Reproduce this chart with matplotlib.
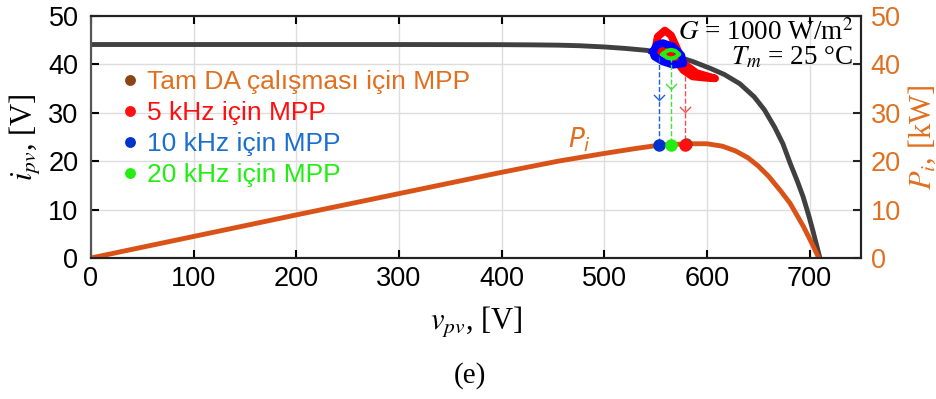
import numpy as np
import matplotlib.pyplot as plt

plt.rcParams['font.family'] = ['Liberation Sans', 'DejaVu Sans']
plt.rcParams['mathtext.fontset'] = 'stix'

# I-V curve (left axis)
v_iv = [0, 100, 200, 300, 400, 430, 455, 476, 500, 520, 541, 565, 586, 603, 617, 632, 646, 656,
        666, 674, 681, 688, 693.6, 699, 703, 707, 710]
i_iv = [44.1, 44.1, 44.1, 44.1, 44.07, 44.03, 43.97, 43.85, 43.6, 43.3, 42.9, 42.0, 40.6, 39.2,
        37.9, 36.0, 33.3, 30.6, 27.0, 23.6, 19.6, 15.9, 12.7, 8.9, 5.8, 2.5, 0]

# P-V curve (right axis, kW)
v_p = [0, 100, 200, 300, 400, 455, 500, 530, 553, 580, 600, 615, 628, 640, 650, 660, 672, 681,
       694, 703, 709]
p_kw = [0, 4.45, 8.9, 13.3, 17.7, 20.0, 21.6, 22.6, 23.3, 23.6, 23.6, 23.1, 22.1, 20.7, 19.0,
        16.9, 13.8, 11.3, 6.5, 2.7, 0]

# operating-point loops around the MPP (v, i)
red_v = [549, 552, 559, 565, 570, 577, 590, 608, 600, 586, 577, 567, 557, 549]
red_i = [42.3, 45.7, 47.0, 46.0, 43.7, 40.2, 38.2, 37.1, 37.2, 37.5, 38.8, 41.6, 43.7, 42.3]
blue_v = [547.5, 551, 557, 567, 575, 577, 567, 557, 549, 547.5]
blue_i = [42.6, 44.0, 44.4, 43.7, 41.9, 40.2, 39.9, 40.6, 41.6, 42.6]
green_v = [557, 561, 565, 569, 573, 569, 565, 561, 557]
green_i = [42.1, 42.8, 43.0, 42.8, 42.1, 41.4, 41.2, 41.4, 42.1]

# MPP points
labels = ['Tam DA çalışması için MPP', '5 kHz için MPP', '10 kHz için MPP', '20 kHz için MPP']
mpp_v = [580, 579, 553, 565]
mpp_p = [23.5, 23.4, 23.3, 23.3]
dot_colors = ['#8B4513', '#FF1010', '#0033CC', '#22EE11']
text_colors = ['#E07020', '#FF1010', '#1A6FD0', '#22EE11']

# dashed drop lines: start current, arrow position
drop_top = [None, 37.5, 41.5, 41.5]
drop_arrow = [None, 30.2, 32.6, 35.0]
dash_colors = [None, '#F05050', '#2060E0', '#40E040']

fig = plt.figure(figsize=(9.36, 3.99), dpi=100)
ax = fig.add_axes([0.0972, 0.3534, 0.8226, 0.6066])
ax2 = ax.twinx()

ax.plot(v_iv, i_iv, color='#404040', lw=3.5, solid_capstyle='butt')
ax2.plot(v_p, p_kw, color='#D95319', lw=3.5)

ax.plot(red_v, red_i, color='#FF0000', lw=5.5, solid_joinstyle='round')
ax.plot(blue_v, blue_i, color='#0000FF', lw=5.5, solid_joinstyle='round')
ax.fill(green_v, green_i, color='#22EE11', lw=0)
ax.plot(green_v, green_i, color='#22EE11', lw=3)

for k in range(1, 4):
    ax2.plot([mpp_v[k], mpp_v[k]], [drop_top[k], mpp_p[k]], ls='--', lw=1, color=dash_colors[k])
    ax2.plot(mpp_v[k], drop_arrow[k], marker=[(-1, 1), (0, 0), (1, 1)], ms=8,
             mfc='none', mec=dash_colors[k], mew=1)

handles = []
for k in range(4):
    h, = ax2.plot(mpp_v[k], mpp_p[k], 'o', color=dot_colors[k], ms=8, zorder=5)
    handles.append(h)
handles[1].set_zorder(6)

leg = ax2.legend(handles, labels, loc='upper left', bbox_to_anchor=(0.044, 0.775),
                 frameon=False, handlelength=0.4, handletextpad=0.45, labelspacing=0.26,
                 prop={'size': 19}, markerscale=0.85, borderaxespad=0, borderpad=0)
for t, c in zip(leg.get_texts(), text_colors):
    t.set_color(c)

ax2.text(476, 24.4, r'$P_i$', color='#E07020', fontsize=19, ha='center', va='center',
         math_fontfamily='dejavusans')

ax.text(742, 45.0, r'$G$ = 1000 W/m$^2$', fontsize=19.5, family='Liberation Serif',
        ha='right', va='baseline')
ax.text(742, 39.9, r'$T_m$ = 25 °C', fontsize=19.5, family='Liberation Serif',
        ha='right', va='baseline')

ax.set_xlim(0, 750)
ax.set_ylim(0, 50)
ax2.set_ylim(0, 50)
ax.set_xticks(range(0, 701, 100))
ax.set_yticks(range(0, 51, 10))
ax2.set_yticks(range(0, 51, 10))
ax.grid(True, color='#DDDDDD', lw=1)
ax.set_axisbelow(True)

ax.tick_params(direction='in', length=6, width=1.5, labelsize=19.5, top=True)
ax.tick_params(axis='x', pad=6)
ax.tick_params(axis='y', pad=9)
ax2.tick_params(direction='in', length=6, width=1.5, labelsize=19.5, colors='#E07020', pad=7)
ax2.tick_params(axis='y', color='#222222')
for s in ax.spines.values():
    s.set_linewidth(1.5)
    s.set_color('#222222')
ax.spines['left'].set_color('#555555')
for s in ax2.spines.values():
    s.set_linewidth(1.5)
    s.set_color('#222222')
ax2.spines['left'].set_color('#555555')

ax.set_xlabel(r'$v_{pv}$, [V]', fontsize=22, family='Liberation Serif', labelpad=9)
ax.set_ylabel(r'$i_{pv}$, [V]', fontsize=22, family='Liberation Serif', labelpad=4)
ax2.set_ylabel(r'$P_i$, [kW]', fontsize=22, family='Liberation Serif', color='#E07020',
               rotation=90, labelpad=4)

fig.text(0.502, 0.06, '(e)', fontsize=21, family='Liberation Serif', ha='center', va='center')

fig.savefig('out.png', dpi=100)
